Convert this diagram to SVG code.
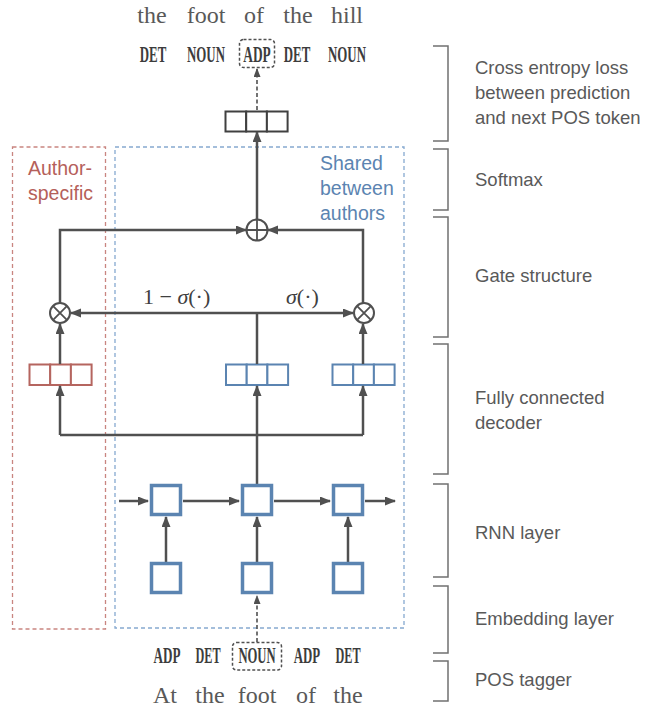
<svg xmlns="http://www.w3.org/2000/svg" width="670" height="711" viewBox="0 0 670 711">
<defs>
<marker id="ah" markerUnits="userSpaceOnUse" markerWidth="11" markerHeight="10" refX="10" refY="4.5" orient="auto"><path d="M0,0 L11,4.5 L0,9 z" fill="#505050"/></marker>
<marker id="ahs" markerUnits="userSpaceOnUse" markerWidth="9" markerHeight="8" refX="8" refY="3.5" orient="auto"><path d="M0,0 L9,3.5 L0,7 z" fill="#505050"/></marker>
<style>
.word{font-family:"Liberation Serif",serif;font-size:24px;fill:#595959;text-anchor:middle}
.tag{font-family:"Liberation Serif",serif;font-weight:bold;font-size:23px;fill:#3c3c3c;text-anchor:middle}
.lbl{font-family:"Liberation Sans",Arial,sans-serif;font-size:18.5px;fill:#595959}
.red{font-family:"Liberation Sans",Arial,sans-serif;font-size:19.5px;fill:#b5605a}
.blue{font-family:"Liberation Sans",Arial,sans-serif;font-size:19.5px;fill:#5b84b1}
.math{font-family:"Liberation Serif",serif;font-size:22px;fill:#404040}
.con{fill:none;stroke:#505050;stroke-width:2.5}
.dcon{fill:none;stroke:#505050;stroke-width:1.6;stroke-dasharray:4,2.5}
.br{fill:none;stroke:#707070;stroke-width:1.5}
.cell{fill:#fff;stroke-width:2}
.rnn{fill:#fff;stroke:#5b84b1;stroke-width:3.5}
.op{fill:#fff;stroke:#505050;stroke-width:2}
</style>
</defs>

<!-- region boxes -->
<g id="author-specific">
<rect x="12.5" y="147" width="93" height="482" fill="none" stroke="#c98580" stroke-width="1.3" stroke-dasharray="4,3"/>
<text class="red" x="28" y="175">Author-</text>
<text class="red" x="28" y="200">specific</text>
</g>
<g id="shared">
<rect x="115" y="147" width="289" height="481" fill="none" stroke="#86a9d0" stroke-width="1.3" stroke-dasharray="4,3"/>
<text class="blue" x="320" y="170">Shared</text>
<text class="blue" x="320" y="195">between</text>
<text class="blue" x="320" y="220">authors</text>
</g>

<!-- top words -->
<g id="top-words">
<text class="word" x="152" y="23">the</text>
<text class="word" x="206" y="23">foot</text>
<text class="word" x="254" y="23">of</text>
<text class="word" x="298" y="23">the</text>
<text class="word" x="347" y="23">hill</text>
</g>
<g id="top-tags">
<text class="tag" transform="translate(153,62) scale(0.56,1)">DET</text>
<text class="tag" transform="translate(206,62) scale(0.56,1)">NOUN</text>
<rect x="239.5" y="39.5" width="35" height="28" rx="4" fill="none" stroke="#505050" stroke-width="1.5" stroke-dasharray="3,2"/>
<text class="tag" transform="translate(257,62) scale(0.58,1)">ADP</text>
<text class="tag" transform="translate(297,62) scale(0.56,1)">DET</text>
<text class="tag" transform="translate(347,62) scale(0.56,1)">NOUN</text>
</g>

<!-- output softmax vector -->
<g id="softmax-vector" stroke="#404040">
<rect class="cell" x="225.5" y="111.5" width="20.7" height="20" stroke-width="1.6"/>
<rect class="cell" x="246.2" y="111.5" width="20.7" height="20" stroke-width="1.6"/>
<rect class="cell" x="266.9" y="111.5" width="20.7" height="20" stroke-width="1.6"/>
</g>

<!-- decoder vectors -->
<g id="author-vector" stroke="#b5655f">
<rect class="cell" x="29.5" y="364.5" width="20.7" height="20.5"/>
<rect class="cell" x="50.2" y="364.5" width="20.7" height="20.5"/>
<rect class="cell" x="70.9" y="364.5" width="20.7" height="20.5"/>
</g>
<g id="shared-vector-1" stroke="#5b84b1">
<rect class="cell" x="226" y="364.5" width="20.7" height="20.5"/>
<rect class="cell" x="246.7" y="364.5" width="20.7" height="20.5"/>
<rect class="cell" x="267.4" y="364.5" width="20.7" height="20.5"/>
</g>
<g id="shared-vector-2" stroke="#5b84b1">
<rect class="cell" x="332.5" y="364.5" width="20.7" height="20.5"/>
<rect class="cell" x="353.2" y="364.5" width="20.7" height="20.5"/>
<rect class="cell" x="373.9" y="364.5" width="20.7" height="20.5"/>
</g>

<!-- connectors -->
<g id="connectors">
<path class="dcon" d="M257,110 L257,69" marker-end="url(#ahs)"/>
<path class="con" d="M257,220 L257,132" marker-end="url(#ah)"/>
<path class="con" d="M60,303 L60,230 L246,230" marker-end="url(#ah)"/>
<path class="con" d="M363,303 L363,230 L268,230" marker-end="url(#ah)"/>
<path class="con" d="M257,313 L71,313" marker-end="url(#ah)"/>
<path class="con" d="M257,313 L353,313" marker-end="url(#ah)"/>
<path class="con" d="M257,364 L257,313"/>
<path class="con" d="M60,364 L60,324" marker-end="url(#ah)"/>
<path class="con" d="M363,364 L363,324" marker-end="url(#ah)"/>
<path class="con" d="M60,435 L363,435"/>
<path class="con" d="M60,435 L60,386" marker-end="url(#ah)"/>
<path class="con" d="M363,435 L363,386" marker-end="url(#ah)"/>
<path class="con" d="M257,484 L257,386" marker-end="url(#ah)"/>
<path class="con" d="M119,501 L148,501" marker-end="url(#ah)"/>
<path class="con" d="M183,501 L239,501" marker-end="url(#ah)"/>
<path class="con" d="M274,501 L330,501" marker-end="url(#ah)"/>
<path class="con" d="M365,501 L395,501" marker-end="url(#ah)"/>
<path class="con" d="M166,562 L166,517" marker-end="url(#ah)"/>
<path class="con" d="M257,562 L257,517" marker-end="url(#ah)"/>
<path class="con" d="M348,562 L348,517" marker-end="url(#ah)"/>
<path class="dcon" d="M257,642 L257,596" marker-end="url(#ahs)"/>
</g>

<!-- operators -->
<g id="sum">
<circle class="op" cx="257" cy="230" r="10.5"/>
<path d="M246.5,230 H267.5 M257,219.5 V240.5" stroke="#505050" stroke-width="1.8"/>
</g>
<g id="mult-left">
<circle class="op" cx="60" cy="313" r="10"/>
<path d="M52.9,305.9 L67.1,320.1 M67.1,305.9 L52.9,320.1" stroke="#505050" stroke-width="1.8"/>
</g>
<g id="mult-right">
<circle class="op" cx="364" cy="313" r="10"/>
<path d="M356.9,305.9 L371.1,320.1 M371.1,305.9 L356.9,320.1" stroke="#505050" stroke-width="1.8"/>
</g>
<g id="gate-labels">
<text class="math" x="143" y="304">1 − <tspan font-style="italic">σ</tspan>(·)</text>
<text class="math" x="286" y="304"><tspan font-style="italic">σ</tspan>(·)</text>
</g>

<!-- RNN and embedding -->
<g id="rnn-1"><rect class="rnn" x="151.5" y="485.5" width="29" height="29"/></g>
<g id="rnn-2"><rect class="rnn" x="242.5" y="485.5" width="29" height="29"/></g>
<g id="rnn-3"><rect class="rnn" x="333.5" y="485.5" width="29" height="29"/></g>
<g id="emb-1"><rect class="rnn" x="151.5" y="563.5" width="29" height="29"/></g>
<g id="emb-2"><rect class="rnn" x="242.5" y="563.5" width="29" height="29"/></g>
<g id="emb-3"><rect class="rnn" x="333.5" y="563.5" width="29" height="29"/></g>

<!-- bottom tags and words -->
<g id="bottom-tags">
<text class="tag" transform="translate(167,663) scale(0.57,1)">ADP</text>
<text class="tag" transform="translate(208,663) scale(0.53,1)">DET</text>
<rect x="232.5" y="642.5" width="49" height="27.5" rx="4" fill="none" stroke="#505050" stroke-width="1.5" stroke-dasharray="3,2"/>
<text class="tag" transform="translate(257,663) scale(0.55,1)">NOUN</text>
<text class="tag" transform="translate(307,663) scale(0.56,1)">ADP</text>
<text class="tag" transform="translate(348,663) scale(0.53,1)">DET</text>
</g>
<g id="bottom-words">
<text class="word" x="165" y="703">At</text>
<text class="word" x="210" y="703">the</text>
<text class="word" x="257" y="703">foot</text>
<text class="word" x="306" y="703">of</text>
<text class="word" x="348" y="703">the</text>
</g>

<!-- right brackets -->
<g id="brackets">
<path class="br" d="M433,46 H448 V141 H433"/>
<path class="br" d="M433,149 H448 V210 H433"/>
<path class="br" d="M433,217 H448 V337 H433"/>
<path class="br" d="M433,344 H448 V474 H433"/>
<path class="br" d="M433,484 H448 V577 H433"/>
<path class="br" d="M433,586 H448 V653 H433"/>
<path class="br" d="M433,661 H448 V701 H433"/>
</g>
<g id="layer-labels">
<text class="lbl" x="475" y="74">Cross entropy loss</text>
<text class="lbl" x="475" y="99">between prediction</text>
<text class="lbl" x="475" y="124">and next POS token</text>
<text class="lbl" x="475" y="186">Softmax</text>
<text class="lbl" x="475" y="282">Gate structure</text>
<text class="lbl" x="475" y="404">Fully connected</text>
<text class="lbl" x="475" y="429">decoder</text>
<text class="lbl" x="475" y="539">RNN layer</text>
<text class="lbl" x="475" y="625">Embedding layer</text>
<text class="lbl" x="475" y="686">POS tagger</text>
</g>
</svg>
